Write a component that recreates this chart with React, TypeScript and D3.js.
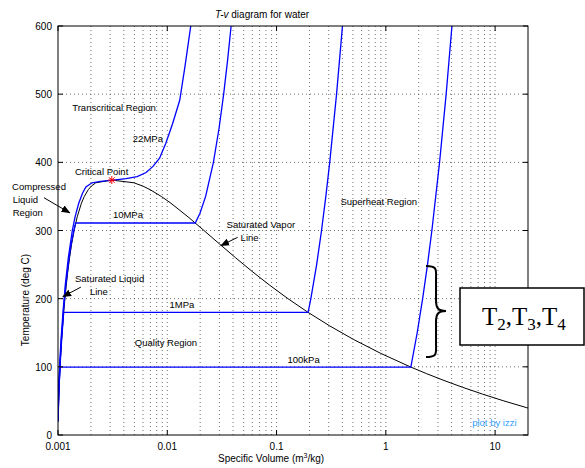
import React from "react";
import * as d3 from "d3";

// saturation dome (steam tables)
const satTemp = [35, 40, 50, 60, 70, 80, 90, 100, 120, 140, 160, 180, 200, 220, 240, 260, 280, 300, 320, 340, 350, 360, 365, 370, 373.95];
const satLiquidVol = [0.001006, 0.001008, 0.001012, 0.001017, 0.001023, 0.001029, 0.001036, 0.001043, 0.00106, 0.00108, 0.001102, 0.001127, 0.001157, 0.00119, 0.001229, 0.001276, 0.001332, 0.001404, 0.001499, 0.001638, 0.001741, 0.001895, 0.002016, 0.002217, 0.003106];
const satVaporVol = [25.2, 19.515, 12.026, 7.6672, 5.0395, 3.4052, 2.3591, 1.672, 0.89133, 0.5085, 0.3068, 0.19384, 0.12721, 0.08609, 0.05972, 0.0422, 0.03017, 0.02166, 0.01549, 0.0108, 0.008806, 0.00695, 0.006009, 0.004953, 0.003106];

// isobars
const p100kTemp = [20, 40, 60, 80, 99.6, 99.6, 150, 200, 250, 300, 400, 500, 600];
const p100kVol = [0.001002, 0.001008, 0.001017, 0.001029, 0.001043, 1.6941, 1.9367, 2.1724, 2.4062, 2.6389, 3.1027, 3.5655, 4.0279];

const p1MTemp = [20, 60, 100, 140, 179.9, 179.9, 200, 250, 300, 350, 400, 500, 600];
const p1MVol = [0.001002, 0.001017, 0.001043, 0.00108, 0.001127, 0.19436, 0.20602, 0.23275, 0.25799, 0.2825, 0.30661, 0.35411, 0.40111];

const p10MTemp = [20, 60, 100, 140, 180, 220, 260, 280, 300, 311, 311, 325, 350, 400, 450, 500, 550, 600];
const p10MVol = [0.000997, 0.001013, 0.001039, 0.001074, 0.00112, 0.001181, 0.001265, 0.001322, 0.001397, 0.001452, 0.018028, 0.019877, 0.02244, 0.026436, 0.029782, 0.032811, 0.035655, 0.038378];

const p22MTemp = [20, 60, 100, 140, 180, 220, 260, 300, 320, 340, 355, 364, 370, 372, 374, 376, 379, 385, 394, 406, 428, 457, 491, 540, 600];
const p22MVol = [0.000993, 0.001008, 0.001033, 0.001066, 0.001111, 0.001165, 0.001243, 0.001352, 0.001433, 0.001548, 0.00168, 0.0018, 0.00205, 0.00245, 0.0032, 0.0042, 0.0053, 0.0064, 0.0074, 0.0085, 0.0097, 0.0112, 0.013, 0.0145, 0.0164];

const criticalPoint = { v: 0.003106, t: 373.95 };

const xTicks = [0.001, 0.01, 0.1, 1, 10];
const xTickLabels = ["0.001", "0.01", "0.1", "1", "10"];
const yTicks = [0, 100, 200, 300, 400, 500, 600];

// text labels in data coordinates (v, T)
const labels = [
  { text: "Transcritical Region", v: 0.00135, t: 475 },
  { text: "22MPa", v: 0.00484, t: 430 },
  { text: "Critical Point", v: 0.00143, t: 381 },
  { text: "Compressed", v: 0.00038, t: 360 },
  { text: "Liquid", v: 0.000385, t: 341 },
  { text: "Region", v: 0.000385, t: 322 },
  { text: "10MPa", v: 0.00318, t: 318 },
  { text: "Saturated Vapor", v: 0.0349, t: 304 },
  { text: "Line", v: 0.0469, t: 285 },
  { text: "Saturated Liquid", v: 0.00143, t: 224 },
  { text: "Line", v: 0.00196, t: 205 },
  { text: "1MPa", v: 0.0105, t: 186 },
  { text: "Quality Region", v: 0.00505, t: 131 },
  { text: "100kPa", v: 0.126, t: 106 },
  { text: "Superheat Region", v: 0.384, t: 337 },
];

const arrows = [
  { v0: 0.000745, t0: 348, v1: 0.00128, t1: 326 },
  { v0: 0.0441, t0: 290, v1: 0.031, t1: 278 },
  { v0: 0.00162, t0: 217, v1: 0.00111, t1: 203 },
];

const width = 585;
const height = 468;
const left = 58;
const right = 528;
const top = 26;
const bottom = 435;

const App = () => {
  const x = d3.scaleLog().domain([0.001, 20]).range([left, right]);
  const y = d3.scaleLinear().domain([0, 600]).range([bottom, top]);

  const line = d3
    .line<[number, number]>()
    .x((d) => x(d[0]))
    .y((d) => y(d[1]));

  const dome: [number, number][] = [
    ...d3.zip(satLiquidVol, satTemp),
    ...d3.zip(satVaporVol, satTemp).reverse(),
  ] as [number, number][];

  const isobars = [
    d3.zip(p100kVol, p100kTemp),
    d3.zip(p1MVol, p1MTemp),
    d3.zip(p10MVol, p10MTemp),
    d3.zip(p22MVol, p22MTemp),
  ] as [number, number][][];

  const gridX: number[] = [];
  for (let d = -3; d <= 1; d++) {
    for (let k = 1; k <= 9; k++) {
      const v = k * Math.pow(10, d);
      if (v > 0.001 && v < 20) gridX.push(v);
    }
  }

  const font = "'Liberation Sans', Arial, sans-serif";
  const cx = x(criticalPoint.v);
  const cy = y(criticalPoint.t);
  const s = 4;

  return (
    <svg
      width={width}
      height={height}
      style={{ position: "absolute", left: 0, top: 0, background: "#fff" }}
      fontFamily={font}
    >
      <defs>
        <clipPath id="plot">
          <rect x={left} y={top} width={right - left} height={bottom - top} />
        </clipPath>
        <marker id="head" viewBox="0 0 10 10" refX="9" refY="5" markerWidth="9" markerHeight="9" orient="auto" markerUnits="userSpaceOnUse">
          <path d="M0,1 L10,5 L0,9 z" fill="#000" />
        </marker>
      </defs>

      <text x={215} y={18} fontSize={10} fill="#000">
        <tspan fontStyle="italic">T-v</tspan> diagram for water
      </text>

      {/* grid */}
      <g stroke="#333" strokeWidth={0.7} strokeDasharray="1,3">
        {gridX.map((v, i) => (
          <line key={"gx" + i} x1={x(v)} x2={x(v)} y1={top} y2={bottom} />
        ))}
        {yTicks.slice(1, -1).map((t) => (
          <line key={"gy" + t} x1={left} x2={right} y1={y(t)} y2={y(t)} />
        ))}
      </g>

      {/* curves */}
      <g clipPath="url(#plot)" fill="none">
        <path d={line(dome) || ""} stroke="#000" strokeWidth={1} />
        {isobars.map((d, i) => (
          <path key={i} d={line(d) || ""} stroke="#0000ff" strokeWidth={1.3} />
        ))}
      </g>

      {/* critical point */}
      <g stroke="#ff0000" strokeWidth={1}>
        <line x1={cx - s} x2={cx + s} y1={cy} y2={cy} />
        <line x1={cx} x2={cx} y1={cy - s} y2={cy + s} />
        <line x1={cx - s * 0.7} x2={cx + s * 0.7} y1={cy - s * 0.7} y2={cy + s * 0.7} />
        <line x1={cx - s * 0.7} x2={cx + s * 0.7} y1={cy + s * 0.7} y2={cy - s * 0.7} />
      </g>

      {/* axes box and ticks */}
      <rect x={left} y={top} width={right - left} height={bottom - top} fill="none" stroke="#000" strokeWidth={1} />
      <g stroke="#000" strokeWidth={1}>
        {xTicks.map((v) => (
          <g key={"xt" + v}>
            <line x1={x(v)} x2={x(v)} y1={bottom} y2={bottom - 5} />
            <line x1={x(v)} x2={x(v)} y1={top} y2={top + 5} />
          </g>
        ))}
        {yTicks.map((t) => (
          <g key={"yt" + t}>
            <line x1={left} x2={left + 5} y1={y(t)} y2={y(t)} />
            <line x1={right} x2={right - 5} y1={y(t)} y2={y(t)} />
          </g>
        ))}
      </g>
      <g fontSize={10} fill="#000">
        {xTicks.map((v, i) => (
          <text key={"xl" + v} x={x(v)} y={450} textAnchor="middle">
            {xTickLabels[i]}
          </text>
        ))}
        {yTicks.map((t) => (
          <text key={"yl" + t} x={52} y={y(t) + 4} textAnchor="end">
            {t}
          </text>
        ))}
      </g>

      <text x={218} y={462} fontSize={10} fill="#000">
        Specific Volume (m<tspan dy={-4} fontSize={7}>3</tspan>
        <tspan dy={4}>/kg)</tspan>
      </text>
      <text transform="translate(29,300) rotate(-90)" textAnchor="middle" fontSize={10} fill="#000">
        Temperature (deg C)
      </text>

      {/* annotations */}
      <g fontSize={9.5} fill="#000">
        {labels.map((l, i) => (
          <text key={"lb" + i} x={x(l.v)} y={y(l.t)}>
            {l.text}
          </text>
        ))}
      </g>
      <g stroke="#000" strokeWidth={1}>
        {arrows.map((a, i) => (
          <line key={"ar" + i} x1={x(a.v0)} y1={y(a.t0)} x2={x(a.v1)} y2={y(a.t1)} markerEnd="url(#head)" />
        ))}
      </g>
      <text x={x(6.17)} y={y(13)} fontSize={9.5} fill="#33a0ff">
        plot by izzi
      </text>

      {/* brace and state box */}
      <path
        d="M426,266 C438,266 436,270 436,280 L436,300 C436,308 438,311 446,311 C438,311 436,314 436,322 L436,343 C436,353 438,357 426,357"
        fill="none"
        stroke="#000"
        strokeWidth={2}
      />
      <rect x={460} y={288} width={124} height={57} fill="#fff" stroke="#000" strokeWidth={1.5} />
      <text x={482} y={325} fontFamily="'Liberation Serif', 'Times New Roman', serif" fontSize={25} fill="#000">
        T<tspan fontSize={17} dy={5}>2</tspan>
        <tspan dy={-5}>,T</tspan>
        <tspan fontSize={17} dy={5}>3</tspan>
        <tspan dy={-5}>,T</tspan>
        <tspan fontSize={17} dy={5}>4</tspan>
      </text>
    </svg>
  );
};

export default App;
